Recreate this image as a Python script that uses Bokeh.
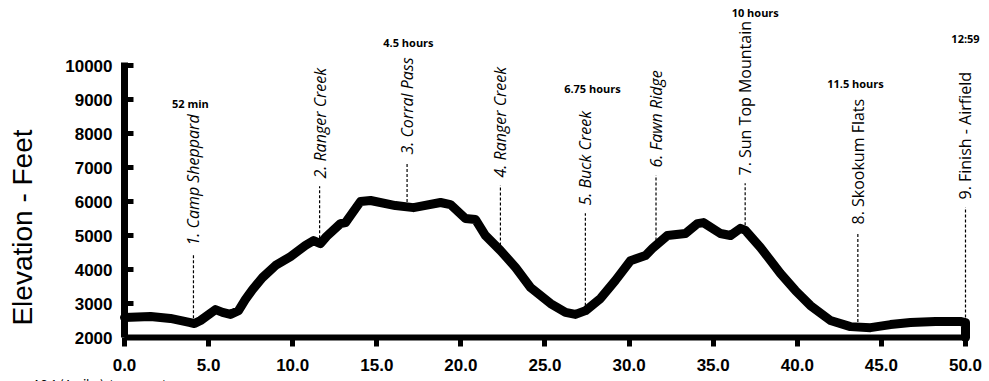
import numpy as np
from bokeh.plotting import figure
from bokeh.models import Range1d, FixedTicker, NumeralTickFormatter, ColumnDataSource
from bokeh.core.properties import value
from bokeh.embed import file_html
from bokeh.resources import INLINE

# Elevation profile (miles, feet)
miles = [0.0, 1.55, 2.73, 3.92, 4.16, 4.52, 5.41, 5.83, 6.30, 6.78, 7.19, 7.61, 8.20, 8.98,
         9.87, 10.76, 11.24, 11.65, 12.01, 12.84, 13.14, 14.03, 14.63, 16.11, 17.18, 18.79,
         19.38, 20.27, 20.87, 21.46, 22.35, 23.25, 24.14, 25.33, 26.22, 26.81, 27.41, 28.30,
         29.19, 30.08, 30.97, 31.39, 32.28, 33.35, 34.07, 34.42, 35.43, 36.03, 36.62, 36.92,
         37.81, 39.00, 39.89, 40.78, 41.97, 43.16, 44.35, 45.54, 46.73, 48.22, 49.70, 50.0, 50.0]
elevation = [2590, 2620, 2560, 2440, 2410, 2500, 2820, 2740, 2680, 2790, 3120, 3410, 3760, 4120,
             4380, 4710, 4850, 4760, 4970, 5350, 5380, 6000, 6030, 5880, 5820, 5970,
             5910, 5500, 5470, 5000, 4560, 4060, 3470, 3000, 2740, 2680, 2790, 3150,
             3680, 4260, 4410, 4620, 5000, 5060, 5350, 5380, 5060, 5000, 5210, 5150,
             4650, 3880, 3380, 2940, 2500, 2320, 2290, 2380, 2440, 2470, 2470, 2440, 2000]

# Aid stations
station_mile = [4.1, 11.6, 16.8, 22.35, 27.4, 31.6, 36.9, 43.6, 50.0]
station_name = ["1. Camp Sheppard", "2. Ranger Creek", "3. Corral Pass", "4. Ranger Creek",
                "5. Buck Creek", "6. Fawn Ridge", "7. Sun Top Mountain", "8. Skookum Flats",
                "9. Finish - Airfield"]
label_base = [4706, 6676, 7382, 6706, 5882, 7000, 6765, 5324, 6059]

# Split times
time_text = ["52 min", "4.5 hours", "6.75 hours", "10 hours", "11.5 hours", "12:59"]
time_mile = [3.92, 16.88, 27.82, 37.5, 43.46, 50.0]
time_elev = [8882, 10676, 9324, 11559, 9470, 10794]

x_ticks = [0, 5, 10, 15, 20, 25, 30, 35, 40, 45, 50]
y_ticks = [2000, 3000, 4000, 5000, 6000, 7000, 8000, 9000, 10000]

y_title = "Elevation - Feet"
note = "AS 1 (4 miles): top up water"

p = figure(width=989, height=381, x_range=Range1d(-7.372, 51.427), y_range=Range1d(706, 11912),
           output_backend="svg", toolbar_location=None,
           min_border_left=0, min_border_right=0, min_border_top=0, min_border_bottom=0)
p.xgrid.visible = False
p.ygrid.visible = False
p.outline_line_color = None

# dashed leader lines
base_elev = np.interp(station_mile, miles[:-1], elevation[:-1])
seg_src = ColumnDataSource(dict(x=station_mile, y0=list(base_elev),
                                y1=[b - 230 for b in label_base]))
p.segment(x0="x", y0="y0", x1="x", y1="y1", source=seg_src, line_dash="3 2",
          line_width=1.2, line_color="black")

p.line(miles, elevation, line_width=9, line_color="black", line_join="round", line_cap="round")

styles = ["italic"] * 6 + ["normal"] * 3
st_src = ColumnDataSource(dict(x=station_mile, y=label_base, t=station_name, s=styles))
p.text(x="x", y="y", text="t", source=st_src, angle=np.pi / 2, text_align="left",
       text_baseline="middle", text_font=value("Open Sans"), text_font_size="16px",
       text_font_style="s", text_color="black")

tm_src = ColumnDataSource(dict(x=time_mile, y=time_elev, t=time_text))
p.text(x="x", y="y", text="t", source=tm_src, text_align="center", text_baseline="middle",
       text_font=value("Open Sans"), text_font_size="11px", text_font_style="bold",
       text_color="black")

# y-axis title and footnote
p.text(x=[-6.06], y=[5235], text=[y_title], angle=np.pi / 2, text_align="center",
       text_baseline="middle", text_font=value("Liberation Sans"), text_font_size="28px",
       text_color="black")
p.text(x=[-5.47], y=[880], text=[note], text_align="left", text_baseline="top",
       text_font=value("Lato"), text_font_size="12px", text_color="black")

# axes
p.xaxis.fixed_location = 2000
p.xaxis.ticker = FixedTicker(ticks=x_ticks)
p.xaxis.formatter = NumeralTickFormatter(format="0.0")
p.xaxis.bounds = (0, 50)
p.xaxis.axis_line_width = 6
p.xaxis.major_tick_out = 9
p.xaxis.major_tick_in = 0
p.xaxis.major_tick_line_width = 5
p.xaxis.minor_tick_line_color = None
p.xaxis.major_label_standoff = 12
p.xaxis.major_label_text_font = "Liberation Sans"
p.xaxis.major_label_text_font_size = "17px"
p.xaxis.major_label_text_font_style = "bold"
p.xaxis.major_label_text_color = "black"

p.yaxis.fixed_location = 0
p.yaxis.ticker = FixedTicker(ticks=y_ticks)
p.yaxis.formatter = NumeralTickFormatter(format="0")
p.yaxis.bounds = (2000, 10100)
p.yaxis.axis_line_width = 7
p.yaxis.major_tick_in = 9
p.yaxis.major_tick_out = 0
p.yaxis.major_tick_line_width = 5
p.yaxis.minor_tick_line_color = None
p.yaxis.major_label_standoff = 12
p.yaxis.major_label_text_font = "Liberation Sans"
p.yaxis.major_label_text_font_size = "17px"
p.yaxis.major_label_text_font_style = "bold"
p.yaxis.major_label_text_color = "black"

open("out.html", "w").write(file_html(p, INLINE))
